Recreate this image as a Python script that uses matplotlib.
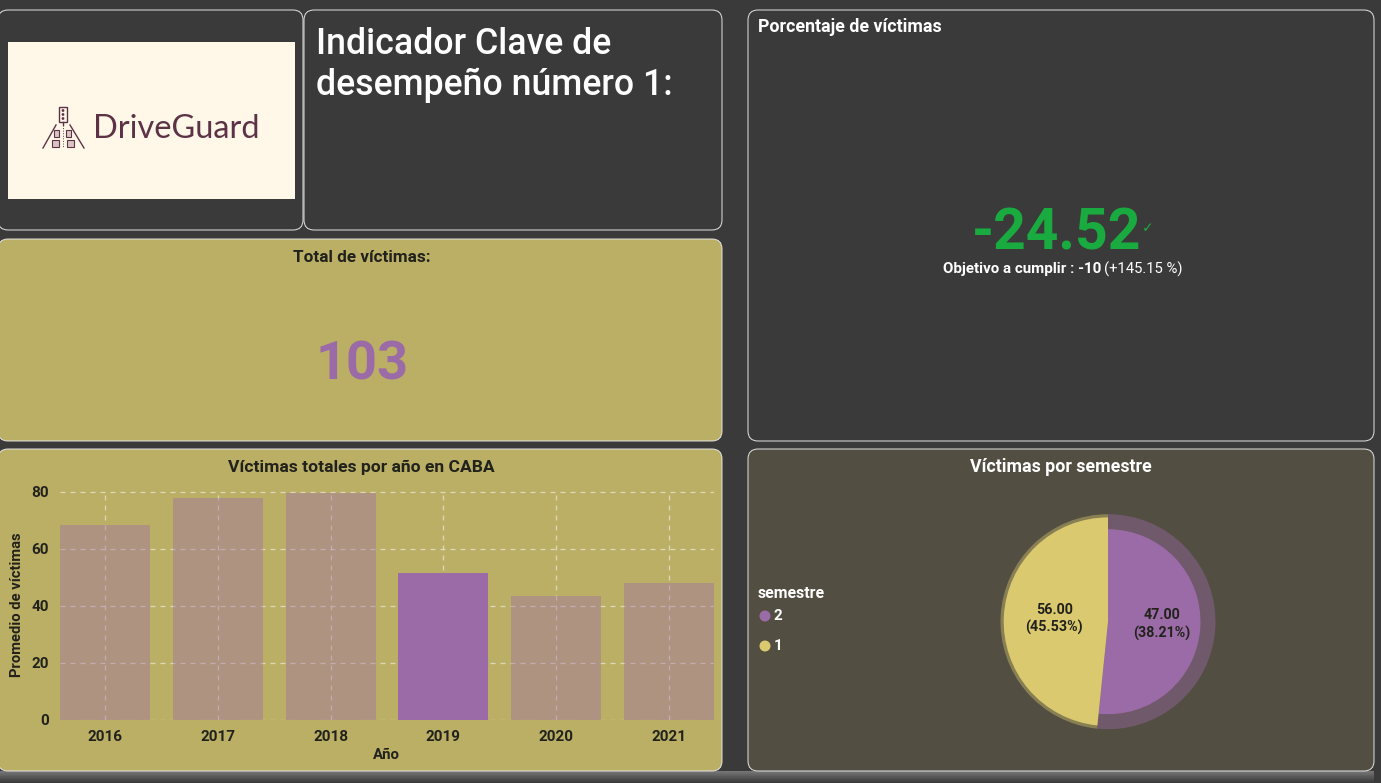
import numpy as np
import matplotlib
matplotlib.use('Agg')
import matplotlib.pyplot as plt
from matplotlib.patches import FancyBboxPatch, Rectangle, Circle

years = ['2016', '2017', '2018', '2019', '2020', '2021']
victims_by_year = [68.5, 78, 79.5, 51.5, 43.5, 48]
highlight_year = '2019'
y_ticks = [0, 20, 40, 60, 80]

semesters = ['2', '1']
semester_selected = [47, 56]
semester_total = [63.5, 59.5]

total_victims = '103'
kpi_value = '-24.52'
kpi_goal = 'Objetivo a cumplir : -10'
kpi_delta = '(+145.15 %)'

W, H = 1381, 783
BG = '#3a3a3a'
OLIVE = '#bbaf66'
BROWN = '#524e42'
PURPLE = '#9b6ba8'
YELLOW = '#dac96e'
DARK = '#22221c'
GREEN = '#1aab40'
LINE = '#e4e4e4'

plt.rcParams['font.family'] = ['Roboto', 'DejaVu Sans']

fig = plt.figure(figsize=(W / 100, H / 100), dpi=100, facecolor=BG)
bg = fig.add_axes([0, 0, 1, 1])
bg.set_xlim(0, W)
bg.set_ylim(H, 0)
bg.axis('off')


def panel(x0, y0, x1, y1, color=BG):
    bg.add_patch(FancyBboxPatch((x0 + 10, y0 + 10), x1 - x0 - 20, y1 - y0 - 20,
                                boxstyle='round,pad=10,rounding_size=10',
                                fc=color, ec=LINE, lw=0.7))


def axes_px(x0, y0, x1, y1):
    return fig.add_axes([x0 / W, 1 - y1 / H, (x1 - x0) / W, (y1 - y0) / H])


panel(-2, 10, 303, 230)
panel(304, 10, 722, 230)
panel(-2, 239, 722, 441, OLIVE)
panel(748, 10, 1374, 441)
panel(-2, 449, 722, 771, OLIVE)
panel(748, 449, 1374, 771, BROWN)

# bottom shadow
shade = np.linspace(0.46, 0.23, 12).reshape(-1, 1)
bg.imshow(shade, extent=(0, 1374, 783, 771), cmap='gray', vmin=0, vmax=1, aspect='auto', zorder=0)
bg.set_xlim(0, W)
bg.set_ylim(H, 0)

# logo
LOGO = '#5c3346'
bg.add_patch(Rectangle((8, 42), 287, 157, fc='#fff7e8', ec='none'))
bg.text(93, 138, 'DriveGuard', color=LOGO, fontsize=23.4, family=['Lato', 'DejaVu Sans'],
        va='baseline', ha='left')
bg.add_patch(Rectangle((59, 107), 8, 15, fc='none', ec=LOGO, lw=1))
for ly in [110.5, 114.5, 118.5]:
    bg.add_patch(Circle((63, ly), 1.4, fc=LOGO, ec='none'))
bg.plot([63, 63], [122, 125], color=LOGO, lw=1)
bg.plot([56, 43], [125, 148], color=LOGO, lw=1)
bg.plot([70, 84], [125, 148], color=LOGO, lw=1)
bg.plot([63, 63], [125, 148], color=LOGO, lw=0.7, ls=':')
for cx, cy, cw in [(57, 133, 5), (69, 133, 5), (56, 143, 7), (71, 143, 7)]:
    bg.add_patch(Rectangle((cx - cw / 2, cy - 3.5), cw, 7, fc='#d9c4c4', ec=LOGO, lw=0.8))

# texts
bg.text(316, 54, 'Indicador Clave de', color='white', fontsize=25.7, weight='medium', va='baseline')
bg.text(316, 95, 'desempeño número 1:', color='white', fontsize=25.7, weight='medium', va='baseline')
bg.text(362, 257.5, 'Total de víctimas:', color=DARK, fontsize=12.3, weight='bold', ha='center', va='center')
bg.text(362, 380, total_victims, color=PURPLE, fontsize=39, weight='bold', ha='center', va='baseline')
bg.text(758, 27.5, 'Porcentaje de víctimas', color='white', fontsize=12.8, weight='bold', va='center')
bg.text(1141, 250, kpi_value, color=GREEN, fontsize=41, weight='bold', ha='right', va='baseline')
bg.text(1148, 228, '\u2713', color=GREEN, fontsize=10, ha='center', va='center', family='DejaVu Sans')
bg.text(1101, 269, kpi_goal, color='white', fontsize=10.9, weight='bold', ha='right', va='center')
bg.text(1104, 269, kpi_delta, color='white', fontsize=10.7, ha='left', va='center')

# bar chart
ax = axes_px(60, 491.3, 714, 720)
ax.patch.set_alpha(0)
for yr, v in zip(years, victims_by_year):
    ax.bar(yr, v, width=0.8, color=PURPLE, alpha=1 if yr == highlight_year else 0.4, zorder=3)
ax.set_xlim(-0.4, 5.4)
ax.set_yticks(y_ticks)
ax.grid(True, color='#e6e3cf', lw=0.9, ls=(0, (4, 4)), alpha=0.8, zorder=0)
ax.set_axisbelow(True)
ax.tick_params(length=0, labelsize=11, labelcolor=DARK)
ax.tick_params(axis='x', pad=7.5)
ax.tick_params(axis='y', pad=8)
for lab in ax.get_xticklabels() + ax.get_yticklabels():
    lab.set_fontweight('bold')
for s in ax.spines.values():
    s.set_visible(False)
ax.set_ylim(-0.1, 80.2)
bg.text(361, 467, 'Víctimas totales por año en CABA', color=DARK, fontsize=12.6, weight='bold', ha='center', va='center')
bg.text(386, 755, 'Año', color=DARK, fontsize=10.8, weight='bold', ha='center', va='center')
bg.text(17, 605, 'Promedio de víctimas', color=DARK, fontsize=10.6, weight='bold', rotation=90, ha='center', va='center')

# pie
bg.text(1061, 467, 'Víctimas por semestre', color='white', fontsize=12.8, weight='bold', ha='center', va='center')
pax = axes_px(1000.5, 514.2, 1215.5, 729.2)
colors = [PURPLE, YELLOW]
wedges, _ = pax.pie(semester_total, colors=colors, startangle=90, counterclock=False, radius=1)
for w in wedges:
    w.set_alpha(0.4)
inner, _ = pax.pie(semester_total, colors=colors, startangle=90, counterclock=False, radius=1)
total = sum(semester_total)
for w, sel, tot in zip(inner, semester_selected, semester_total):
    w.set_radius(np.sqrt(sel / tot))
pax.set_xlim(-1, 1)
pax.set_ylim(-1, 1)
label_pos = [(0.5, -0.025), (-0.5, 0.025)]
for (lx, ly), sel in zip(label_pos, semester_selected):
    pax.text(lx, ly, f'{sel:.2f}\n({sel / total * 100:.2f}%)', color=DARK, fontsize=10.3,
             weight='bold', ha='center', va='center', linespacing=1.3)

# legend
bg.text(758, 593, 'semestre', color='white', fontsize=11.4, weight='bold', va='center')
for name, col, y in zip(semesters, colors, [616, 646]):
    bg.add_patch(Circle((765, y), 5.5, fc=col, ec='none'))
    bg.text(774, y + 0.5, name, color='white', fontsize=11, weight='bold', va='center')

fig.savefig('out.png', dpi=100, facecolor=BG)
